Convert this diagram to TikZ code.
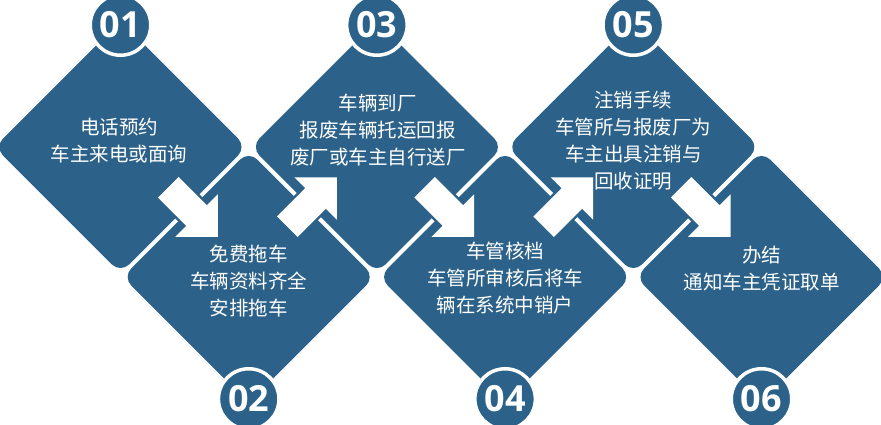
\documentclass[tikz,border=0pt]{standalone}
\usepackage{fontspec}
\newfontfamily\cjk{Noto Sans CJK SC}
\newfontfamily\numfont{Open Sans}
\usetikzlibrary{shapes.geometric, calc}
\definecolor{stepblue}{HTML}{2C6289}
\tikzset{
  dia/.style={diamond, fill=stepblue, minimum width=252pt, minimum height=252pt,
    inner sep=0pt, outer sep=0pt, rounded corners=12pt},
  num/.style={circle, fill=stepblue, draw=white, line width=3.5pt, minimum size=60.5pt,
    inner sep=0pt, text=white, font=\numfont\bfseries\fontsize{36}{36}\selectfont},
  txt/.style={text=white, align=center, font=\cjk\fontsize{19.5}{27}\selectfont},
  flowarr/.pic={
    \fill[white, preaction={draw=stepblue, line width=5pt, line join=round}]
      (-35,-14.5) -- (5,-14.5) -- (5,-30) -- (35,0) -- (5,30) -- (5,14.5) -- (-35,14.5) -- cycle;
  }
}
\begin{document}
\begin{tikzpicture}[x=1pt, y=1pt]
    \useasboundingbox (0,0) rectangle (881,424);

    % 1. 菱形
    \node[dia] (d1) at (120.5,277) {};
    \node[dia] (d2) at (248.7,147) {};
    \node[dia] (d3) at (376.9,277) {};
    \node[dia] (d4) at (505.1,147) {};
    \node[dia] (d5) at (633.3,277) {};
    \node[dia] (d6) at (761.5,147) {};

    % 2. 序号
    \node[num] (n1) at ([yshift=-4pt]d1.north) {01};
    \node[num] (n2) at ([yshift=4pt]d2.south) {02};
    \node[num] (n3) at ([yshift=-4pt]d3.north) {03};
    \node[num] (n4) at ([yshift=4pt]d4.south) {04};
    \node[num] (n5) at ([yshift=-4pt]d5.north) {05};
    \node[num] (n6) at ([yshift=4pt]d6.south) {06};

    % 3. 箭头
    \pic[rotate=-45] at ($(d1)!0.5!(d2)+(8.4,0)$) {flowarr};
    \pic[rotate=45]  at ($(d2)!0.5!(d3)+(-0.8,10)$) {flowarr};
    \pic[rotate=-45] at ($(d3)!0.5!(d4)+(8.4,0)$) {flowarr};
    \pic[rotate=45]  at ($(d4)!0.5!(d5)+(-0.8,10)$) {flowarr};
    \pic[rotate=-45] at ($(d5)!0.5!(d6)+(8.4,0)$) {flowarr};

    % 4. 文字
    \node[txt] (t1) at ($(d1)+(-1.5,6)$) {电话预约\\车主来电或面询};
    \node[txt] (t2) at ($(d2)+(0,-4.5)$) {免费拖车\\车辆资料齐全\\安排拖车};
    \node[txt] (t3) at ($(d3)+(1,16.5)$) {车辆到厂\\报废车辆托运回报\\废厂或车主自行送厂};
    \node[txt] (t4) at ($(d4)+(0,-1)$) {车管核档\\车管所审核后将车\\辆在系统中销户};
    \node[txt] (t5) at ($(d5)+(0,6)$) {注销手续\\车管所与报废厂为\\车主出具注销与\\回收证明};
    \node[txt] (t6) at ($(d6)+(0,8.5)$) {办结\\通知车主凭证取单};
\end{tikzpicture}
\end{document}
